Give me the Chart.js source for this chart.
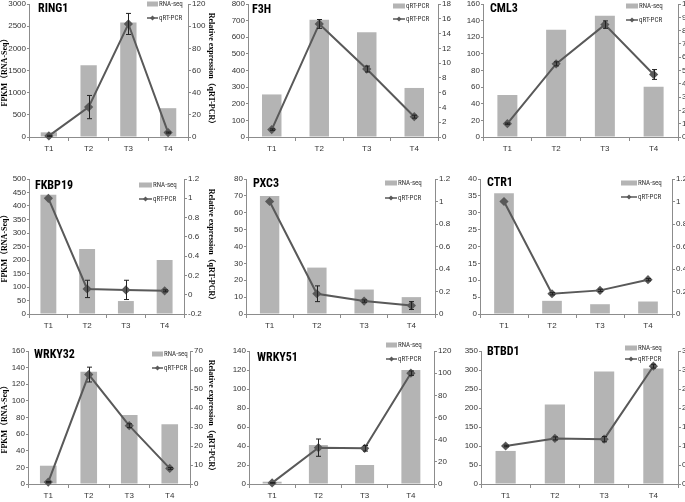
<!DOCTYPE html>
<html>
<head>
<meta charset="utf-8">
<script src="https://cdn.jsdelivr.net/npm/chart.js@4.4.0/dist/chart.umd.min.js"></script>
<style>
  html, body { margin: 0; padding: 0; background: #fff; }
  body { width: 685px; height: 502px; position: relative; overflow: hidden; }
  .panel { position: absolute; }
</style>
</head>
<body>
<script>
// Time points shared by every panel
const timePoints = ['T1', 'T2', 'T3', 'T4'];

// RNA-seq FPKM (bars), qRT-PCR relative expression (line) and its error
const ring1Fpkm = [105, 1620, 2580, 650];
const ring1Qpcr = [1, 27, 102, 4];
const ring1Err = [0.5, 10.5, 9.5, 0.5];
const ring1LeftAxis = [0, 3000, 500];
const ring1RightAxis = [0, 120, 20];

const f3hFpkm = [256, 705, 630, 295];
const f3hQpcr = [1, 15.3, 9.2, 2.75];
const f3hErr = [0.1, 0.6, 0.4, 0.2];
const f3hLeftAxis = [0, 800, 100];
const f3hRightAxis = [0, 18, 2];

const cml3Fpkm = [50.5, 129, 146, 60.5];
const cml3Qpcr = [1, 5.5, 8.45, 4.7];
const cml3Err = [0.05, 0.15, 0.28, 0.37];
const cml3LeftAxis = [0, 160, 20];
const cml3RightAxis = [0, 10, 1];

const fkbp19Fpkm = [442, 241, 48, 200];
const fkbp19Qpcr = [1, 0.06, 0.05, 0.04];
const fkbp19Err = [0, 0.09, 0.1, 0.01];
const fkbp19LeftAxis = [0, 500, 50];
const fkbp19RightAxis = [-0.2, 1.2, 0.2];

const pxc3Fpkm = [70, 27.5, 14.5, 10];
const pxc3Qpcr = [1, 0.18, 0.115, 0.075];
const pxc3Err = [0, 0.07, 0.01, 0.035];
const pxc3LeftAxis = [0, 80, 10];
const pxc3RightAxis = [0, 1.2, 0.2];

const ctr1Fpkm = [35.8, 3.9, 2.9, 3.7];
const ctr1Qpcr = [1, 0.18, 0.21, 0.305];
const ctr1Err = [0, 0.01, 0.01, 0.01];
const ctr1LeftAxis = [0, 40, 5];
const ctr1RightAxis = [0, 1.2, 0.2];

const wrky32Fpkm = [22, 135, 83, 72];
const wrky32Qpcr = [1, 57.6, 30.7, 8.2];
const wrky32Err = [0.3, 3.9, 1, 0.5];
const wrky32LeftAxis = [0, 160, 20];
const wrky32RightAxis = [0, 70, 10];

const wrky51Fpkm = [2.4, 41, 20, 120];
const wrky51Qpcr = [1, 32.8, 32.2, 100];
const wrky51Err = [0.3, 7.8, 2.5, 2];
const wrky51LeftAxis = [0, 140, 20];
const wrky51RightAxis = [0, 120, 20];

const btbd1Fpkm = [87, 209, 296, 304];
const btbd1Qpcr = [1, 1.2, 1.18, 3.1];
const btbd1Err = [0.02, 0.04, 0.07, 0.05];
const btbd1LeftAxis = [0, 350, 50];
const btbd1RightAxis = [0, 3.5, 0.5];

const legendRna = ['RNA-seq', 'qRT-PCR'];
const legendF3h = ['qRT-PCR', 'qRT-PCR'];
const leftTitle = 'FPKM（RNA-Seq）';
const rightTitle = 'Relative expression（qRT-PCR）';

// Styling
const barColor = '#b4b4b4';
const lineColor = '#595959';
const axisColor = '#8c8c8c';
const textColor = '#333';
const tickFont = { family: "'Liberation Sans', Arial, sans-serif", size: 8 };
const narrowFamily = "'Liberation Sans Narrow', 'Roboto Condensed', 'DejaVu Sans Condensed', 'Liberation Sans', sans-serif";

// box: canvas [x, y, w, h] on the page; plot: [left, top, right, bottom] of plot area
// leg: [box start from right, row1 dy, row2 dy, box width]; g: gene label offset [dx, dy]
const panels = [
    { gene: 'RING1', fpkm: ring1Fpkm, qpcr: ring1Qpcr, err: ring1Err, left: ring1LeftAxis, right: ring1RightAxis, labels: legendRna, titles: true,
      box: [0, -3, 216, 163], plot: [29, 4, 188, 137], leg: [41, 0, 14, 11], g: [9, 5] },
    { gene: 'F3H', fpkm: f3hFpkm, qpcr: f3hQpcr, err: f3hErr, left: f3hLeftAxis, right: f3hRightAxis, labels: legendF3h, titles: false,
      box: [218, -3, 240, 163], plot: [248, 4, 438, 137], leg: [45, 2, 15, 12], g: [4, 6] },
    { gene: 'CML3', fpkm: cml3Fpkm, qpcr: cml3Qpcr, err: cml3Err, left: cml3LeftAxis, right: cml3RightAxis, labels: legendRna, titles: false,
      box: [458, -3, 227, 163], plot: [483, 4, 678, 137], leg: [52, 2, 16, 12], g: [7, 5] },
    { gene: 'FKBP19', fpkm: fkbp19Fpkm, qpcr: fkbp19Qpcr, err: fkbp19Err, left: fkbp19LeftAxis, right: fkbp19RightAxis, labels: legendRna, titles: true,
      box: [0, 160, 216, 170], plot: [29, 179, 184, 314], leg: [45, 6, 20, 13], g: [6, 7] },
    { gene: 'PXC3', fpkm: pxc3Fpkm, qpcr: pxc3Qpcr, err: pxc3Err, left: pxc3LeftAxis, right: pxc3RightAxis, labels: legendRna, titles: false,
      box: [218, 160, 240, 170], plot: [246, 179, 435, 314], leg: [50, 4, 19, 12], g: [7, 5] },
    { gene: 'CTR1', fpkm: ctr1Fpkm, qpcr: ctr1Qpcr, err: ctr1Err, left: ctr1LeftAxis, right: ctr1RightAxis, labels: legendRna, titles: false,
      box: [458, 160, 227, 170], plot: [480, 179, 672, 314], leg: [51, 4, 18, 16], g: [7, 4] },
    { gene: 'WRKY32', fpkm: wrky32Fpkm, qpcr: wrky32Qpcr, err: wrky32Err, left: wrky32LeftAxis, right: wrky32RightAxis, labels: legendRna, titles: true,
      box: [0, 330, 216, 172], plot: [28, 351, 190, 484], leg: [38, 3, 17, 11], g: [6, 4] },
    { gene: 'WRKY51', fpkm: wrky51Fpkm, qpcr: wrky51Qpcr, err: wrky51Err, left: wrky51LeftAxis, right: wrky51RightAxis, labels: legendRna, titles: false,
      box: [218, 330, 240, 172], plot: [249, 351, 434, 484], leg: [48, -6, 8, 11], g: [8, 7] },
    { gene: 'BTBD1', fpkm: btbd1Fpkm, qpcr: btbd1Qpcr, err: btbd1Err, left: btbd1LeftAxis, right: btbd1RightAxis, labels: legendRna, titles: false,
      box: [458, 330, 227, 172], plot: [481, 351, 678, 484], leg: [53, -3, 8, 12], g: [6, 1] }
];

// Error bars, gene name and the little two-row legend
const overlayPlugin = {
    id: 'overlay',
    afterDatasetsDraw(chart, args, opts) {
        const ctx = chart.ctx;
        const meta = chart.getDatasetMeta(1);
        const scale = chart.scales.y1;
        const values = chart.data.datasets[1].data;
        ctx.save();
        ctx.strokeStyle = '#222';
        ctx.lineWidth = 1;
        opts.err.forEach((e, i) => {
            if (!e) return;
            const x = Math.round(meta.data[i].x) + 0.5;
            const yTop = scale.getPixelForValue(values[i] + e);
            const yBot = scale.getPixelForValue(values[i] - e);
            ctx.beginPath();
            ctx.moveTo(x, yTop); ctx.lineTo(x, yBot);
            ctx.moveTo(x - 2.5, yTop); ctx.lineTo(x + 2.5, yTop);
            ctx.moveTo(x - 2.5, yBot); ctx.lineTo(x + 2.5, yBot);
            ctx.stroke();
        });
        ctx.restore();
    },
    afterDraw(chart, args, opts) {
        const ctx = chart.ctx;
        const { left, top, right } = chart.chartArea;
        ctx.save();
        ctx.textBaseline = 'middle';
        ctx.textAlign = 'left';
        ctx.fillStyle = '#000';
        ctx.font = 'bold 12px ' + narrowFamily;
        ctx.fillText(opts.gene, left + opts.g[0], top + opts.g[1]);

        const bx = right - opts.leg[0];
        const w = opts.leg[3];
        const y1 = top + opts.leg[1];
        const y2 = top + opts.leg[2];
        ctx.fillStyle = barColor;
        ctx.fillRect(bx, y1 - 2.5, w, 5);
        ctx.strokeStyle = lineColor;
        ctx.lineWidth = 1.5;
        ctx.beginPath();
        ctx.moveTo(bx, y2); ctx.lineTo(bx + w, y2);
        ctx.stroke();
        const cx = bx + w / 2;
        ctx.fillStyle = lineColor;
        ctx.beginPath();
        ctx.moveTo(cx, y2 - 2.5); ctx.lineTo(cx + 2.5, y2); ctx.lineTo(cx, y2 + 2.5); ctx.lineTo(cx - 2.5, y2);
        ctx.closePath();
        ctx.fill();
        ctx.fillStyle = textColor;
        ctx.font = '7px ' + narrowFamily;
        ctx.fillText(opts.labels[0], bx + w + 1, y1);
        ctx.fillText(opts.labels[1], bx + w + 1, y2);
        ctx.restore();
    }
};

function formatTick(v) {
    return String(+v.toFixed(2));
}

function makePanel(p) {
    const [bx, by, bw, bh] = p.box;
    const [L, T, R, B] = p.plot;
    const wrap = document.createElement('div');
    wrap.className = 'panel';
    wrap.style.left = bx + 'px';
    wrap.style.top = by + 'px';
    wrap.style.width = bw + 'px';
    wrap.style.height = bh + 'px';
    const canvas = document.createElement('canvas');
    wrap.appendChild(canvas);
    document.body.appendChild(wrap);

    const axisTitle = text => ({
        display: p.titles,
        text: text,
        color: '#000',
        padding: 0,
        font: { family: "'Liberation Serif', 'Times New Roman', 'Noto Sans CJK SC', serif", size: 8, weight: 'bold' }
    });

    new Chart(canvas, {
        type: 'bar',
        data: {
            labels: timePoints,
            datasets: [{
                type: 'bar',
                label: p.labels[0],
                data: p.fpkm,
                yAxisID: 'y',
                backgroundColor: barColor,
                categoryPercentage: 1,
                barPercentage: 0.41,
                order: 2
            }, {
                type: 'line',
                label: p.labels[1],
                data: p.qpcr,
                yAxisID: 'y1',
                borderColor: lineColor,
                backgroundColor: lineColor,
                borderWidth: 2,
                pointStyle: 'rectRot',
                pointRadius: 3.2,
                tension: 0,
                clip: false,
                order: 1
            }]
        },
        options: {
            responsive: true,
            maintainAspectRatio: false,
            animation: false,
            layout: { padding: { top: T - by, left: 0, right: 0, bottom: 0 } },
            plugins: {
                legend: { display: false },
                tooltip: { enabled: false },
                overlay: { gene: p.gene, err: p.err, labels: p.labels, leg: p.leg, g: p.g }
            },
            scales: {
                x: {
                    offset: true,
                    grid: { offset: true, drawOnChartArea: false, tickLength: 4, color: axisColor },
                    border: { color: axisColor },
                    ticks: { font: tickFont, color: textColor, padding: 3 },
                    afterFit: s => { s.height = by + bh - B; }
                },
                y: {
                    position: 'left',
                    min: p.left[0], max: p.left[1],
                    ticks: { stepSize: p.left[2], font: tickFont, color: textColor, padding: 1, callback: formatTick },
                    grid: { drawOnChartArea: false, tickLength: 2, color: axisColor },
                    border: { color: axisColor },
                    title: axisTitle(leftTitle),
                    afterFit: s => { s.width = L - bx; }
                },
                y1: {
                    position: 'right',
                    min: p.right[0], max: p.right[1],
                    ticks: { stepSize: p.right[2], font: tickFont, color: textColor, padding: 1, callback: formatTick },
                    grid: { drawOnChartArea: false, tickLength: 3, color: axisColor },
                    border: { color: axisColor },
                    title: axisTitle(rightTitle),
                    afterFit: s => { s.width = bx + bw - R; }
                }
            }
        },
        plugins: [overlayPlugin]
    });
}

panels.forEach(makePanel);
</script>
</body>
</html>
